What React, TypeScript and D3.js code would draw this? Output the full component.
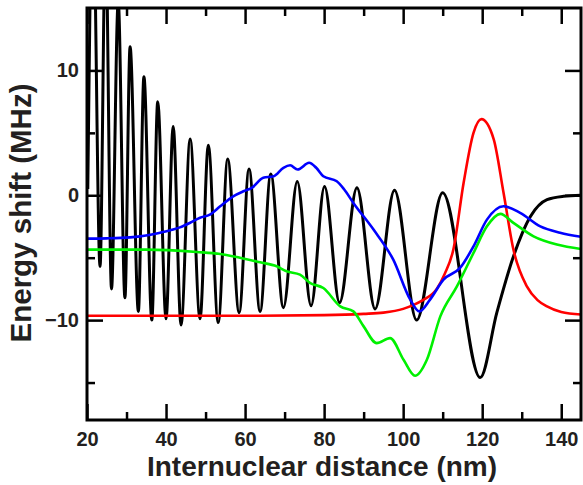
import { useEffect, useRef } from 'react';
import * as d3 from 'd3';

const width = 583;
const height = 485;
const margin = { top: 8, right: 2, bottom: 65, left: 87 };

// black curve
const blackX = [20.2, 21.5, 23.3, 24.7, 26.2, 27.9, 29.6, 30.9, 33.0, 34.4, 36.4, 37.9, 40.0, 41.8, 43.8, 46.1, 48.6, 50.7, 53.2, 55.6, 58.5, 61.0, 63.8, 66.5, 69.7, 73.2, 76.7, 80.1, 83.9, 88.3, 92.9, 97.8, 103.4, 110.0, 119.5, 123.7, 127.9, 132.2, 136.4, 140.6, 145];
const blackY = [0.5, 24, -5.7, 21, -7.5, 15.5, -8.2, 11.9, -9.3, 9.5, -10.0, 7.5, -9.9, 5.5, -10.4, 4.5, -9.9, 4.0, -10.2, 2.9, -9.4, 2.1, -9.3, 1.7, -9.0, 1.1, -8.85, 0.7, -8.6, 0.6, -9.1, 0.4, -10.0, 0.2, -14.6, -9.4, -4.9, -1.7, -0.35, -0.08, 0];

// red curve
const redX = [20, 60, 80, 90, 95, 100, 102.5, 105, 108.5, 110.5, 112.7, 115.3, 117.8, 119.8, 122.9, 125.4, 127.9, 131.3, 134, 136.4, 140, 145];
const redY = [-9.65, -9.65, -9.6, -9.5, -9.4, -9.1, -8.8, -8.4, -7.5, -6.3, -4.35, 1.0, 5.0, 6.1, 4.5, 0.2, -4.35, -7.3, -8.4, -8.9, -9.35, -9.55];

// blue curve
const blueX = [20, 25, 30.9, 33.4, 38.5, 41.8, 43.5, 46.1, 48.6, 51.1, 53.7, 57, 59.6, 61.7, 64.6, 67.2, 69.7, 71.4, 73.3, 76.2, 78, 79.8, 83.2, 85, 87.4, 92.5, 97.5, 101.8, 104.1, 106.8, 110.2, 114.4, 117.8, 121.2, 125.4, 129.6, 134.7, 139.7, 145];
const blueY = [-3.47, -3.45, -3.37, -3.29, -3.0, -2.75, -2.57, -2.2, -1.8, -1.55, -0.88, -0.08, 0.32, 0.59, 1.4, 1.52, 2.2, 2.4, 2.06, 2.6, 2.2, 1.52, 1.12, 0.5, -0.61, -2.75, -5.16, -8.36, -9.3, -8.36, -6.76, -5.82, -4.09, -1.95, -0.88, -1.41, -2.49, -3.0, -3.33];

// green curve
const greenX = [20, 35, 47.8, 53.7, 58.7, 63.8, 68, 70.5, 73.9, 76.5, 79.8, 84.1, 87.4, 90, 93.3, 96.7, 100.1, 103, 106, 109.4, 113.6, 117.8, 121.2, 124.6, 127.9, 133, 138.9, 145];
const greenY = [-4.35, -4.35, -4.54, -4.7, -5.0, -5.37, -5.69, -6.09, -6.36, -7.03, -7.43, -8.9, -9.3, -10.5, -11.84, -11.44, -13.18, -14.46, -13.18, -9.7, -7.3, -4.62, -2.49, -1.49, -2.21, -3.29, -3.95, -4.3];

const xMajor = [20, 40, 60, 80, 100, 120, 140];
const xMinor = [30, 50, 70, 90, 110, 130];
const yMajor = [-10, 0, 10];
const yMinor = [-15, -5, 5];

const series = [
  { xs: blackX, ys: blackY, color: '#000000', w: 3 },
  { xs: redX, ys: redY, color: '#ff0000', w: 2.6 },
  { xs: greenX, ys: greenY, color: '#00f000', w: 2.6 },
  { xs: blueX, ys: blueY, color: '#0000ff', w: 2.6 },
];

const App = () => {
  const ref = useRef<SVGSVGElement>(null);

  useEffect(() => {
    const svg = d3.select(ref.current);
    svg.selectAll('*').remove();

    const x = d3.scaleLinear().domain([20, 145]).range([margin.left, width - margin.right]);
    const y = d3.scaleLinear().domain([-18, 15]).range([height - margin.bottom, margin.top]);
    const x0 = margin.left, x1 = width - margin.right;
    const y0 = height - margin.bottom, y1 = margin.top;

    svg.append('clipPath').attr('id', 'plotClip')
      .append('rect')
      .attr('x', x0).attr('y', y1)
      .attr('width', x1 - x0).attr('height', y0 - y1);

    const line = d3.line<[number, number]>()
      .x(d => x(d[0]))
      .y(d => y(d[1]))
      .curve(d3.curveMonotoneX);

    const gLines = svg.append('g').attr('clip-path', 'url(#plotClip)');
    series.forEach(s => {
      const pts = s.xs.map((v, i) => [v, s.ys[i]] as [number, number]);
      gLines.append('path')
        .attr('d', line(pts))
        .attr('fill', 'none')
        .attr('stroke', s.color)
        .attr('stroke-width', s.w)
        .attr('stroke-linejoin', 'round');
    });

    const font = "'Liberation Sans', Arial, Helvetica, sans-serif";

    // axes, ticks pointing inward
    const styleAxis = (g: any) => {
      g.select('.domain').remove();
      g.selectAll('.tick line').attr('stroke', '#000').attr('stroke-width', 2.5);
      g.selectAll('text')
        .attr('fill', '#231f20')
        .attr('font-family', font)
        .attr('font-weight', 'bold')
        .attr('font-size', 20);
    };

    svg.append('g').attr('transform', `translate(0,${y0})`)
      .call(d3.axisBottom(x).tickValues(xMajor).tickSize(-16).tickPadding(12).tickFormat(d3.format('d')))
      .call(styleAxis);
    svg.append('g').attr('transform', `translate(0,${y0})`)
      .call(d3.axisBottom(x).tickValues(xMinor).tickSize(-8).tickFormat(() => ''))
      .call(styleAxis);
    svg.append('g').attr('transform', `translate(0,${y1})`)
      .call(d3.axisTop(x).tickValues(xMajor).tickSize(-16).tickFormat(() => ''))
      .call(styleAxis);
    svg.append('g').attr('transform', `translate(0,${y1})`)
      .call(d3.axisTop(x).tickValues(xMinor).tickSize(-8).tickFormat(() => ''))
      .call(styleAxis);

    svg.append('g').attr('transform', `translate(${x0},0)`)
      .call(d3.axisLeft(y).tickValues(yMajor).tickSize(-16).tickPadding(8).tickFormat(d3.format('d')))
      .call(styleAxis);
    svg.append('g').attr('transform', `translate(${x0},0)`)
      .call(d3.axisLeft(y).tickValues(yMinor).tickSize(-8).tickFormat(() => ''))
      .call(styleAxis);
    svg.append('g').attr('transform', `translate(${x1},0)`)
      .call(d3.axisRight(y).tickValues(yMajor).tickSize(-16).tickFormat(() => ''))
      .call(styleAxis);
    svg.append('g').attr('transform', `translate(${x1},0)`)
      .call(d3.axisRight(y).tickValues(yMinor).tickSize(-8).tickFormat(() => ''))
      .call(styleAxis);

    // frame
    svg.append('rect')
      .attr('x', x0).attr('y', y1)
      .attr('width', x1 - x0).attr('height', y0 - y1)
      .attr('fill', 'none')
      .attr('stroke', '#000')
      .attr('stroke-width', 3);

    // titles
    svg.append('text')
      .attr('x', 322)
      .attr('y', 476)
      .attr('text-anchor', 'middle')
      .attr('font-family', font)
      .attr('font-weight', 'bold')
      .attr('font-size', 28)
      .attr('fill', '#231f20')
      .text('Internuclear distance (nm)');

    svg.append('text')
      .attr('transform', `translate(31,213) rotate(-90)`)
      .attr('text-anchor', 'middle')
      .attr('font-family', font)
      .attr('font-weight', 'bold')
      .attr('font-size', 29.5)
      .attr('fill', '#231f20')
      .text('Energy shift (MHz)');
  }, []);

  return (
    <svg
      ref={ref}
      width={width}
      height={height}
      style={{ position: 'absolute', left: 0, top: 0, background: '#fff' }}
    />
  );
};

export default App;
